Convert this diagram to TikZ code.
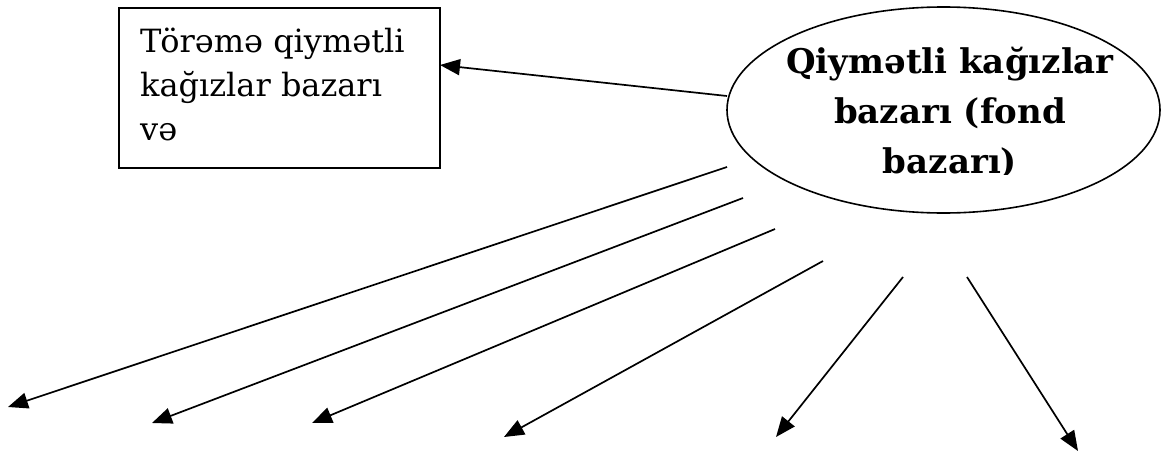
\documentclass[tikz,border=0pt]{standalone}
\usepackage{fontspec}
\setmainfont{DejaVu Serif}
\usetikzlibrary{shapes.geometric,arrows.meta}
\tikzset{
  boxshape/.style={draw=black, line width=2.2pt, minimum width=321pt, minimum height=160pt, anchor=north west, inner sep=0pt},
  ellshape/.style={draw=black, ellipse, line width=1.6pt, minimum width=433pt, minimum height=206pt, inner sep=0pt},
  arr/.style={draw=black, line width=1.7pt, -{Triangle[length=20pt,width=16pt]}},
  boxtxt/.style={anchor=base west, inner sep=0pt, font=\fontsize{32}{44}\selectfont},
  elltxt/.style={anchor=base, inner sep=0pt, font=\fontsize{34}{50}\selectfont\bfseries}
}
\begin{document}
\begin{tikzpicture}[x=1pt,y=1pt]
\fill[white] (0,0) rectangle (1172,-455);
\useasboundingbox (0,0) rectangle (1172,-455);
% box
\node[boxshape] (box) at (118,-7) {};
\node[boxtxt] (boxtext) at (140,-52) {\begin{tabular}[t]{@{}l@{}}Törəmə qiymətli\\kağızlar bazarı\\və\end{tabular}};
% ellipse
\node[ellshape] (ell) at (943.5,-110) {};
\begin{scope}
\clip (700,0) rectangle (1172,-174);
\node[elltxt] (elltext) at (950,-73) {\begin{tabular}[t]{@{}c@{}}Qiymətli kağızlar\\bazarı (fond\\bazarı)\end{tabular}};
\end{scope}
% connector ends
\coordinate (s0) at (727,-96);
\coordinate (t0) at (440,-65);
\coordinate (s1) at (727,-167);
\coordinate (t1) at (8,-407);
\coordinate (s2) at (743,-198);
\coordinate (t2) at (152,-423);
\coordinate (s3) at (775,-229);
\coordinate (t3) at (312,-423);
\coordinate (s4) at (823,-261);
\coordinate (t4) at (504,-437);
\coordinate (s5) at (903,-277);
\coordinate (t5) at (776,-437);
\coordinate (s6) at (967,-277);
\coordinate (t6) at (1078,-451);
\draw[arr] (s0) -- (t0);
\draw[arr] (s1) -- (t1);
\draw[arr] (s2) -- (t2);
\draw[arr] (s3) -- (t3);
\draw[arr] (s4) -- (t4);
\draw[arr] (s5) -- (t5);
\draw[arr] (s6) -- (t6);
\end{tikzpicture}
\end{document}
